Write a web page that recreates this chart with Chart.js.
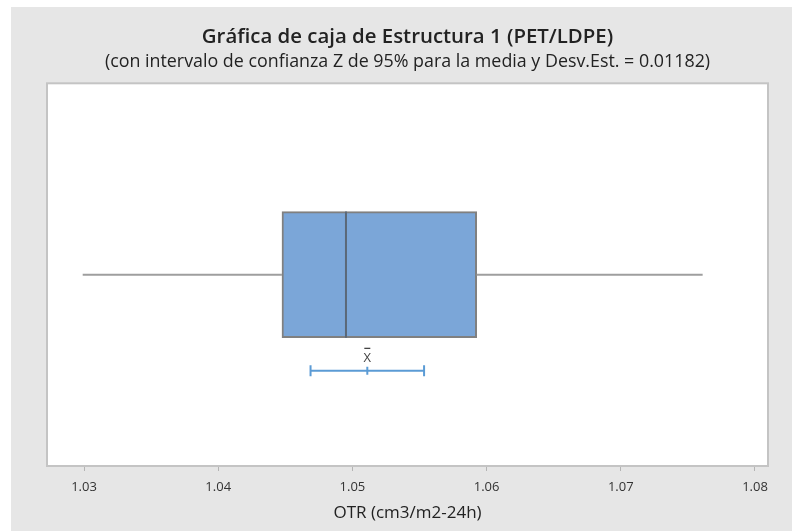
<!DOCTYPE html>
<html lang="es">
<head>
<meta charset="UTF-8" />
<title>Gráfica de caja de Estructura 1 (PET/LDPE)</title>
<script src="https://cdn.jsdelivr.net/npm/chart.js"></script>
<style>
    html, body { margin: 0; padding: 0; background: #ffffff; }
    #wrap {
        position: absolute;
        left: 11px;
        top: 7px;
        width: 781px;
        height: 524px;
        background: #e6e6e6;
    }
</style>
</head>
<body>
<div id="wrap"><canvas id="boxChart" width="781" height="524"></canvas></div>
<script>
    // Box plot summary (OTR, cm3/m2-24h), n = 30
    const whiskerMin = 1.0299;
    const whiskerMax = 1.0761;
    const quartiles = [1.04475, 1.04952, 1.05926]; // Q1, mediana, Q3
    const meanValue = 1.05111;
    const meanCI = [1.04688, 1.05534]; // IC Z 95% para la media
    const tickValues = [1.03, 1.04, 1.05, 1.06, 1.07, 1.08];
    const tickLabels = ["1.03", "1.04", "1.05", "1.06", "1.07", "1.08"];

    // vertical placement on a hidden 0..1 axis
    const boxY = 0.5;
    const boxLow = 0.335, boxHigh = 0.665;
    const ciY = 0.249;

    // white plot area + grey frame
    const frame = {
        id: "frame",
        beforeDraw(chart) {
            const { ctx, chartArea: a } = chart;
            ctx.save();
            ctx.fillStyle = "#ffffff";
            ctx.fillRect(a.left, a.top, a.right - a.left, a.bottom - a.top);
            ctx.restore();
        },
        afterDraw(chart) {
            const { ctx, chartArea: a } = chart;
            ctx.save();
            ctx.strokeStyle = "#c4c4c4";
            ctx.lineWidth = 2;
            ctx.strokeRect(a.left, a.top, a.right - a.left, a.bottom - a.top);
            ctx.restore();
        }
    };

    // "X̄" marker above the mean
    const meanLabel = {
        id: "meanLabel",
        afterDatasetsDraw(chart) {
            const { ctx, scales } = chart;
            const x = scales.x.getPixelForValue(meanValue);
            const y = scales.y.getPixelForValue(ciY) - 12;
            ctx.save();
            ctx.fillStyle = "#444444";
            ctx.font = "13px 'Open Sans'";
            ctx.textAlign = "center";
            ctx.textBaseline = "middle";
            ctx.fillText("X", x, y);
            ctx.fillRect(x - 3, y - 11, 6, 1.3);
            ctx.restore();
        }
    };

    new Chart(document.getElementById("boxChart"), {
        type: "bar",
        data: {
            datasets: [
                {
                    type: "bar",
                    indexAxis: "y",
                    data: [{ x: [quartiles[0], quartiles[2]], y: boxY }],
                    backgroundColor: "#7ba6d8",
                    borderColor: "#808080",
                    borderWidth: 2,
                    borderSkipped: false,
                    barThickness: 126,
                    order: 2
                },
                {
                    type: "line",
                    data: [{ x: quartiles[1], y: boxLow }, { x: quartiles[1], y: boxHigh }],
                    borderColor: "#5b6878",
                    borderWidth: 2,
                    pointRadius: 0,
                    order: 1
                },
                {
                    type: "line",
                    data: [{ x: whiskerMin, y: boxY }, { x: quartiles[0], y: boxY }],
                    borderColor: "#9e9e9e",
                    borderWidth: 2,
                    pointRadius: 0,
                    order: 1
                },
                {
                    type: "line",
                    data: [{ x: quartiles[2], y: boxY }, { x: whiskerMax, y: boxY }],
                    borderColor: "#9e9e9e",
                    borderWidth: 2,
                    pointRadius: 0,
                    order: 1
                },
                {
                    type: "line",
                    data: [
                        { x: meanCI[0], y: ciY },
                        { x: meanValue, y: ciY },
                        { x: meanCI[1], y: ciY }
                    ],
                    borderColor: "#5b9bd5",
                    borderWidth: 2,
                    pointStyle: "line",
                    rotation: 90,
                    pointRadius: [5.5, 4, 5.5],
                    pointBorderColor: "#5b9bd5",
                    pointBorderWidth: 2,
                    order: 1
                }
            ]
        },
        options: {
            responsive: false,
            animation: false,
            layout: { padding: { left: 36, right: 24, top: 0, bottom: 8 } },
            plugins: {
                legend: { display: false },
                tooltip: { enabled: false },
                title: {
                    display: true,
                    text: "Gráfica de caja de Estructura 1 (PET/LDPE)",
                    color: "#222222",
                    font: { family: "'Open Sans'", size: 20.4, weight: "600", lineHeight: 1.2 },
                    padding: { top: 18, bottom: 2 }
                },
                subtitle: {
                    display: true,
                    text: "(con intervalo de confianza Z de 95% para la media y Desv.Est. = 0.01182)",
                    color: "#222222",
                    font: { family: "'Open Sans'", size: 17.85, weight: "normal", lineHeight: 1.2 },
                    padding: { top: 0, bottom: 10.4 }
                }
            },
            scales: {
                x: {
                    type: "linear",
                    offset: false,
                    min: 1.02724,
                    max: 1.08097,
                    afterBuildTicks(axis) {
                        axis.ticks = tickValues.map(v => ({ value: v }));
                    },
                    ticks: {
                        color: "#333333",
                        font: { family: "'Open Sans'", size: 13, lineHeight: 1.2 },
                        padding: 8,
                        maxRotation: 0,
                        callback: (v) => tickLabels[tickValues.indexOf(v)] ?? ""
                    },
                    grid: {
                        offset: false,
                        drawOnChartArea: false,
                        drawTicks: true,
                        tickLength: 5,
                        color: "#b4b4b4"
                    },
                    border: { display: false },
                    title: {
                        display: true,
                        text: "OTR (cm3/m2-24h)",
                        color: "#222222",
                        font: { family: "'Open Sans'", size: 17, lineHeight: 1.2 },
                        padding: { top: 0, bottom: 0 }
                    }
                },
                y: {
                    type: "linear",
                    offset: false,
                    min: 0,
                    max: 1,
                    display: false
                }
            }
        },
        plugins: [frame, meanLabel]
    });
</script>
</body>
</html>
